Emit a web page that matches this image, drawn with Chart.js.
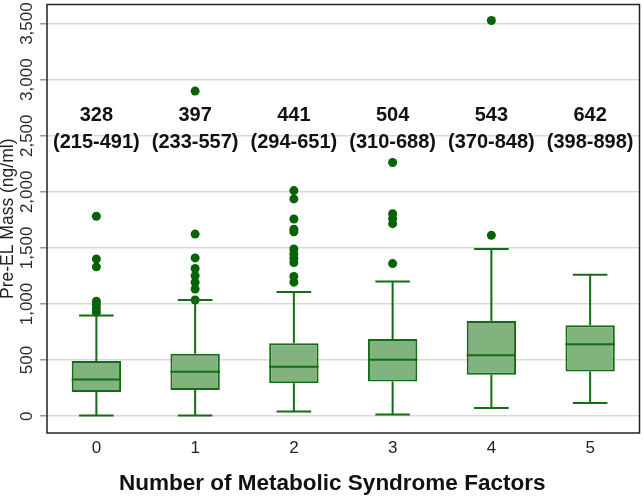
<!DOCTYPE html>
<html>
<head>
<meta charset="utf-8">
<title>Pre-EL Mass by Metabolic Syndrome Factors</title>
<script src="https://cdn.jsdelivr.net/npm/chart.js@4.4.1/dist/chart.umd.min.js"></script>
<style>
  html, body { margin: 0; padding: 0; background: #fff; }
  #wrap { width: 644px; height: 500px; position: relative; }
</style>
</head>
<body>
<div id="wrap"><canvas id="boxChart"></canvas></div>
<script>
// box statistics (ng/ml)
const categories  = ['0', '1', '2', '3', '4', '5'];
const whiskerLow  = [5, 5, 41, 15, 73, 118];
const q1          = [215, 233, 294, 310, 370, 398];
const medians     = [328, 397, 441, 504, 543, 642];
const q3          = [491, 557, 651, 688, 848, 810];
const whiskerHigh = [898, 1036, 1107, 1201, 1490, 1261];
const outliers = [
    [925, 960, 996, 1025, 1331, 1402, 1782],
    [1036, 1134, 1193, 1252, 1316, 1411, 1623, 2898],
    [1195, 1246, 1369, 1407, 1446, 1490, 1643, 1667, 1758, 1937, 2011],
    [1360, 1716, 1761, 1805, 2261],
    [1612, 3527],
    []
];
const yTicks = [0, 500, 1000, 1500, 2000, 2500, 3000, 3500];
// median (IQR) printed above each box
const medianLabels = ['328', '397', '441', '504', '543', '642'];
const rangeLabels  = ['(215-491)', '(233-557)', '(294-651)', '(310-688)', '(370-848)', '(398-898)'];

const FONT = '"Liberation Sans", Arial, Helvetica, sans-serif';
const darkGreen = '#156b16';
const boxFill = '#80b37e';
const dotGreen = '#086208';

Chart.defaults.font.family = FONT;

// whiskers, caps, medians, annotations and the frame
const boxParts = {
    id: 'boxParts',
    afterDatasetsDraw(chart) {
        const ctx = chart.ctx;
        const x = chart.scales.x;
        const y = chart.scales.y;
        const boxes = chart.getDatasetMeta(0).data;

        ctx.save();
        ctx.strokeStyle = darkGreen;
        ctx.lineWidth = 2;
        categories.forEach(function(c, i) {
            const cx = x.getPixelForValue(i);
            const half = boxes[i].width / 2;
            const cap = half * 0.7;
            const yLo = y.getPixelForValue(whiskerLow[i]);
            const yHi = y.getPixelForValue(whiskerHigh[i]);
            ctx.beginPath();
            // stems
            ctx.moveTo(cx, y.getPixelForValue(q3[i]));
            ctx.lineTo(cx, yHi);
            ctx.moveTo(cx, y.getPixelForValue(q1[i]));
            ctx.lineTo(cx, yLo);
            // caps
            ctx.moveTo(cx - cap, yHi);
            ctx.lineTo(cx + cap, yHi);
            ctx.moveTo(cx - cap, yLo);
            ctx.lineTo(cx + cap, yLo);
            // median
            const ym = y.getPixelForValue(medians[i]);
            ctx.moveTo(cx - half, ym);
            ctx.lineTo(cx + half, ym);
            ctx.stroke();
        });

        // median (IQR) text
        ctx.fillStyle = '#111';
        ctx.font = 'bold 20px ' + FONT;
        ctx.textAlign = 'center';
        ctx.textBaseline = 'middle';
        categories.forEach(function(c, i) {
            const cx = x.getPixelForValue(i);
            ctx.fillText(medianLabels[i], cx, y.getPixelForValue(2680));
            ctx.fillText(rangeLabels[i], cx, y.getPixelForValue(2440));
        });
        ctx.restore();
    },
    afterDraw(chart) {
        const ctx = chart.ctx;
        const a = chart.chartArea;
        ctx.save();
        ctx.strokeStyle = '#222';
        ctx.lineWidth = 1.5;
        ctx.strokeRect(a.left, a.top, a.right - a.left, a.bottom - a.top);

        // x axis title
        ctx.fillStyle = '#111';
        ctx.font = 'bold 22.5px ' + FONT;
        ctx.textAlign = 'center';
        ctx.textBaseline = 'middle';
        ctx.fillText('Number of Metabolic Syndrome Factors', (a.left + a.right) / 2 - 11, 484);
        ctx.restore();
    }
};

const outlierPoints = [];
outliers.forEach(function(list, i) {
    list.forEach(function(v) {
        outlierPoints.push({ x: categories[i], y: v });
    });
});

const ctx = document.getElementById('boxChart').getContext('2d');
new Chart(ctx, {
    type: 'bar',
    data: {
        labels: categories,
        datasets: [{
            label: 'IQR',
            data: categories.map(function(c, i) { return [q1[i], q3[i]]; }),
            backgroundColor: boxFill,
            borderColor: darkGreen,
            borderWidth: 2,
            borderSkipped: false,
            barPercentage: 0.5,
            categoryPercentage: 1.0
        }, {
            type: 'line',
            label: 'Outliers',
            data: outlierPoints,
            showLine: false,
            pointRadius: 4.5,
            pointBackgroundColor: dotGreen,
            pointBorderWidth: 0
        }]
    },
    options: {
        responsive: true,
        maintainAspectRatio: false,
        animation: false,
        layout: { padding: { top: 1, right: 4, left: 0, bottom: 0 } },
        plugins: {
            legend: { display: false },
            tooltip: { enabled: false }
        },
        scales: {
            x: {
                grid: { display: false, drawTicks: false },
                border: { display: false },
                ticks: { color: '#222', font: { size: 17 }, padding: 5 },
                afterFit: function(scale) { scale.height = 67; }
            },
            y: {
                min: -150,
                max: 3670,
                grid: { color: '#d9d9d9', lineWidth: 1.5, tickLength: 7, tickColor: '#9a9a9a' },
                border: { display: false },
                afterBuildTicks: function(scale) {
                    scale.ticks = yTicks.map(function(v) { return { value: v }; });
                },
                ticks: {
                    autoSkip: false,
                    minRotation: 90,
                    maxRotation: 90,
                    crossAlign: 'center',
                    padding: -9,
                    color: '#2a2a2a',
                    font: { size: 17 }
                },
                title: {
                    display: true,
                    text: 'Pre-EL Mass (ng/ml)',
                    color: '#222',
                    font: { size: 17.5 },
                    padding: { top: -2, bottom: 0 }
                },
                afterFit: function(scale) {
                    scale.width = 47;
                    scale.paddingTop = 0;
                    scale.paddingBottom = 0;
                }
            }
        }
    },
    plugins: [boxParts]
});
</script>
</body>
</html>
